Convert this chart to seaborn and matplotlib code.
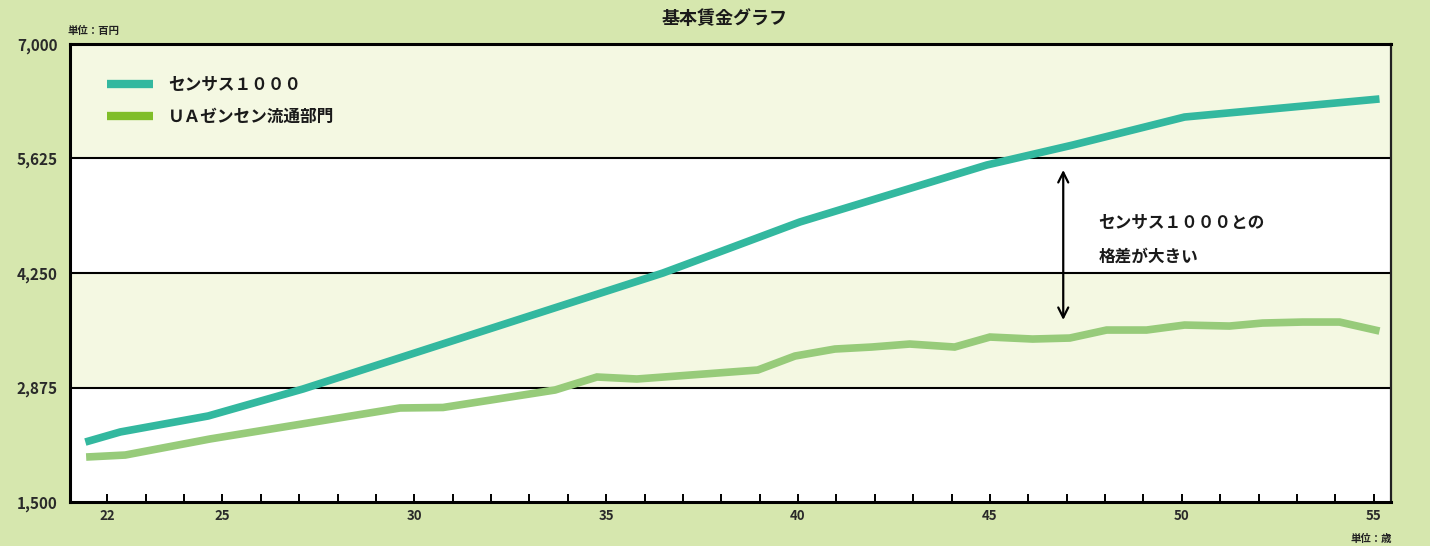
import matplotlib
matplotlib.use("Agg")
import matplotlib.pyplot as plt
from matplotlib.lines import Line2D
from matplotlib.ticker import FixedLocator, MultipleLocator
import seaborn as sns
import pandas as pd

# ---- data ----
census_ages = [21.43, 22.34, 24.63, 27.10, 36.48, 38.30, 40.05, 44.92, 47.16, 50.07, 55.15]
census_vals = [2220, 2341, 2533, 2857, 4250, 4562, 4863, 5547, 5787, 6123, 6340]

ua_ages = [21.45, 22.47, 24.68, 29.63, 30.75, 33.67, 34.76, 35.80, 38.95, 39.92, 40.96,
           41.92, 42.91, 44.08, 45.00, 46.11, 47.08, 48.04, 49.08, 50.07, 51.24, 52.10,
           53.15, 54.11, 55.15]
ua_vals = [2040, 2064, 2257, 2629, 2635, 2845, 3001, 2977, 3085, 3253, 3337,
           3361, 3397, 3361, 3481, 3457, 3469, 3565, 3565, 3625, 3613, 3649,
           3661, 3661, 3553]

series_names = ["センサス１０００", "ＵＡゼンセン流通部門"]
y_ticks = [1500, 2875, 4250, 5625, 7000]
x_label_ticks = [22, 25, 30, 35, 40, 45, 50, 55]
title = "基本賃金グラフ"
unit_y = "単位：百円"
unit_x = "単位：歳"
note_lines = ["センサス１０００との", "格差が大きい"]
arrow_age = 46.91
arrow_top, arrow_bottom = 5487, 3686

# ---- styles ----
BG = "#D6E7AE"
BAND = "#F4F8E2"
TEAL = "#33B89F"
GREEN_LINE = "#97CB7A"
GREEN_LEG = "#80BE2A"

sns.set_theme(style="white")
plt.rcParams["font.family"] = ["Noto Sans CJK JP", "DejaVu Sans"]

df = pd.concat([
    pd.DataFrame({"age": census_ages, "value": census_vals, "series": series_names[0]}),
    pd.DataFrame({"age": ua_ages, "value": ua_vals, "series": series_names[1]}),
])

fig = plt.figure(figsize=(14.3, 5.46), dpi=100, facecolor=BG)
ax = fig.add_axes([70 / 1430, 44 / 546, 1321 / 1430, 458 / 546])
ax.set_facecolor("white")

# alternating bands
for i in range(len(y_ticks) - 1):
    if i % 2 == 1:
        ax.axhspan(y_ticks[i], y_ticks[i + 1], color=BAND, zorder=0, lw=0)
for v in y_ticks[1:-1]:
    ax.axhline(v, color="black", lw=1.5, zorder=1)

sns.lineplot(data=df, x="age", y="value", hue="series", sort=False,
             palette={series_names[0]: TEAL, series_names[1]: GREEN_LINE},
             lw=5.5, ax=ax, legend=False, zorder=3)
for line in ax.lines[-2:]:
    line.set_solid_capstyle("butt")
    line.set_solid_joinstyle("miter")

ax.set_xlim(21.03, 55.45)
ax.set_ylim(y_ticks[0], y_ticks[-1])
ax.set_xlabel("")
ax.set_ylabel("")

ax.set_yticks(y_ticks)
ax.set_yticklabels([f"{v:,}" for v in y_ticks])
ax.tick_params(axis="y", length=0, pad=9, labelsize=11, labelcolor="#2a2a2a")
for t in ax.get_yticklabels():
    t.set_fontweight("semibold")

ax.xaxis.set_major_locator(FixedLocator(x_label_ticks))
ax.xaxis.set_minor_locator(MultipleLocator(1))
ax.set_xticklabels([str(v) for v in x_label_ticks])
ax.tick_params(axis="x", which="both", direction="in", length=6, width=1.4,
               color="black", bottom=True, top=False, pad=5)
ax.tick_params(axis="x", which="major", labelsize=9.5, labelcolor="#2a2a2a")
for t in ax.get_xticklabels():
    t.set_fontweight("semibold")

for s in ["left", "bottom", "top"]:
    ax.spines[s].set_color("black")
    ax.spines[s].set_linewidth(2.2)
ax.spines["right"].set_color("#222222")
ax.spines["right"].set_linewidth(1.6)

# legend
handles = [Line2D([0], [0], color=TEAL, lw=6, solid_capstyle="butt"),
           Line2D([0], [0], color=GREEN_LEG, lw=6, solid_capstyle="butt")]
leg = ax.legend(handles, series_names, loc="upper left",
                bbox_to_anchor=(0.028, 0.93), frameon=False,
                fontsize=12, handlelength=2.75, handletextpad=0.9,
                labelspacing=0.85, borderpad=0, borderaxespad=0)
for t in leg.get_texts():
    t.set_color("#1a1a1a")
    t.set_fontweight("semibold")

# annotation arrow + note
ax.annotate("", xy=(arrow_age, arrow_bottom), xytext=(arrow_age, arrow_top),
            arrowprops=dict(arrowstyle="<->", color="black", lw=1.6,
                            mutation_scale=18, shrinkA=0, shrinkB=0), zorder=4)
ax.text(47.83, 4850, note_lines[0], fontsize=12, va="center", ha="left",
        color="#1a1a1a", fontweight="semibold")
ax.text(47.83, 4445, note_lines[1], fontsize=12, va="center", ha="left",
        color="#1a1a1a", fontweight="semibold")

fig.text(725 / 1430, 1 - 18 / 546, title, ha="center", va="center",
         fontsize=13, fontweight="bold", color="#1a1a1a")
fig.text(68 / 1430, 1 - 31 / 546, unit_y, ha="left", va="center",
         fontsize=7.5, fontweight="bold", color="#222222")
fig.text(1392 / 1430, 1 - 539 / 546, unit_x, ha="right", va="center",
         fontsize=7.5, fontweight="bold", color="#222222")

fig.savefig("out.png", dpi=100, facecolor=BG)
